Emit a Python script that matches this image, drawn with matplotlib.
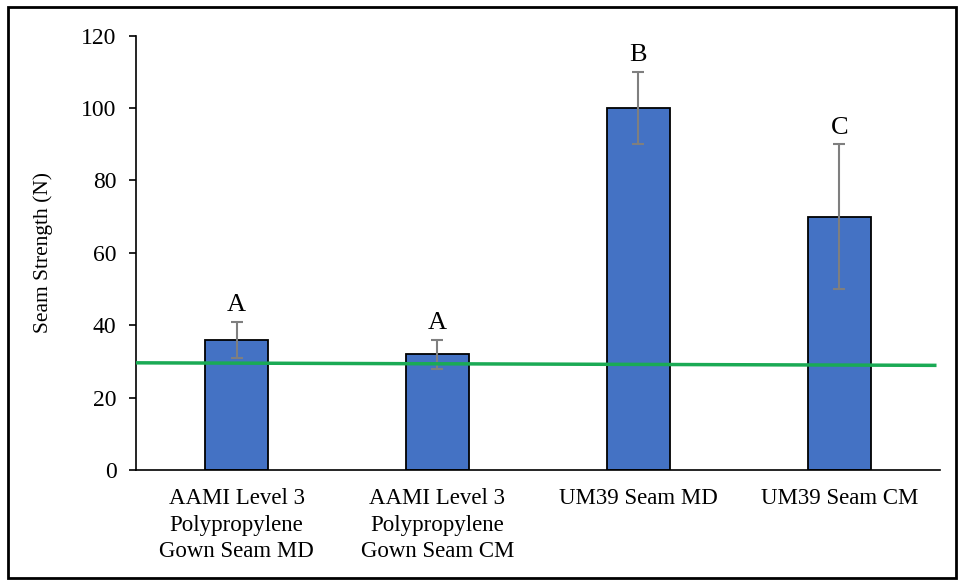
import numpy as np
import matplotlib
matplotlib.use("Agg")
import matplotlib.pyplot as plt
from matplotlib.patches import Rectangle

# data
categories = ["AAMI Level 3\nPolypropylene\nGown Seam MD",
              "AAMI Level 3\nPolypropylene\nGown Seam CM",
              "UM39 Seam MD",
              "UM39 Seam CM"]
strength = [36, 32, 100, 70]
strength_err = [5, 4, 10, 20]
letters = ["A", "A", "B", "C"]
# green reference line (slightly tilted in the original)
line_x = [-0.5, 3.475]
line_y = [29.6, 28.9]
yticks = [0, 20, 40, 60, 80, 100, 120]

plt.rcParams["font.family"] = ["Liberation Serif", "DejaVu Serif"]

fig = plt.figure(figsize=(9.58, 5.8), dpi=100)
ax = fig.add_axes([0.142, 0.1897, 0.839, 0.749])

x = np.arange(len(categories))
ax.bar(x, strength, width=0.315, color="#4472C4", edgecolor="black",
       linewidth=1.3, zorder=2)
ax.errorbar(x, strength, yerr=strength_err, fmt="none", ecolor="#7f7f7f",
            elinewidth=1.5, capsize=4, capthick=1.5, zorder=3)
ax.plot(line_x, line_y, color="#1aaa55", linewidth=2.5, zorder=4)

for xi, v, e, lab in zip(x, strength, strength_err, letters):
    ax.text(xi, v + e + 1.5, lab, ha="center", va="bottom", fontsize=19)

ax.set_xlim(-0.5, 3.5)
ax.set_ylim(0, 120)
ax.set_yticks(yticks)
ax.set_xticks(x)
ax.set_xticklabels(categories, fontsize=16.5, linespacing=1.35)
ax.tick_params(axis="x", length=0, pad=13)
ax.tick_params(axis="y", length=5, width=1.2, labelsize=17, pad=9)
ax.set_ylabel("Seam Strength (N)", fontsize=15.5, labelpad=20)

for s in ["top", "right"]:
    ax.spines[s].set_visible(False)
ax.spines["left"].set_linewidth(1.2)
ax.spines["bottom"].set_linewidth(1.2)

# border round the whole chart
fig.patches.append(Rectangle((8 / 958, 2 / 580), 948 / 958, 571 / 580,
                             transform=fig.transFigure, fill=False,
                             edgecolor="black", linewidth=2))

fig.savefig("out.png", dpi=100)
